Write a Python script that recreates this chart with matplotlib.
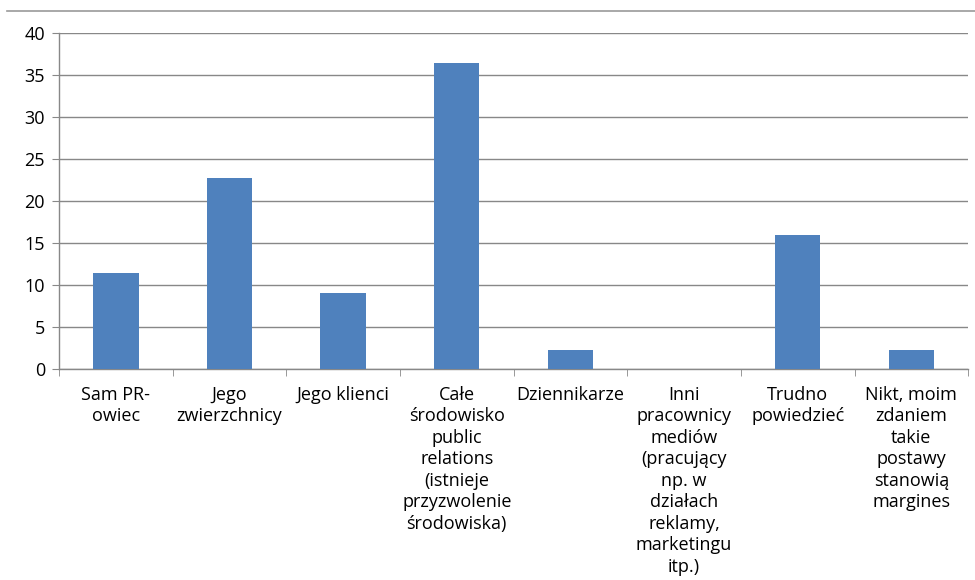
import matplotlib
matplotlib.use("Agg")
import matplotlib.pyplot as plt
from matplotlib.lines import Line2D
import numpy as np

plt.rcParams['font.family'] = ['Open Sans', 'DejaVu Sans']

categories = [
    "Sam PR-\nowiec",
    "Jego\nzwierzchnicy",
    "Jego klienci",
    "Całe\nśrodowisko\npublic\nrelations\n(istnieje\nprzyzwolenie\nśrodowiska)",
    "Dziennikarze",
    "Inni\npracownicy\nmediów\n(pracujący\nnp. w\ndziałach\nreklamy,\nmarketingu\nitp.)",
    "Trudno\npowiedzieć",
    "Nikt, moim\nzdaniem\ntakie\npostawy\nstanowią\nmargines",
]
values = [11.4, 22.7, 9.1, 36.4, 2.3, 0.0, 15.9, 2.3]
yticks = [0, 5, 10, 15, 20, 25, 30, 35, 40]

fig = plt.figure(figsize=(9.75, 5.8), dpi=100)
ax = fig.add_axes([0.0605, 0.3638, 0.9325, 0.5792])

x = np.arange(len(categories))
ax.bar(x, values, width=0.4, color='#4F81BD', zorder=3)

ax.set_xlim(-0.5, len(categories) - 0.5)
ax.set_ylim(0, 40)
ax.set_yticks(yticks)
ax.tick_params(axis='y', labelsize=13, length=5, color='#888888', pad=5)
ax.yaxis.grid(True, color='#888888', linewidth=1.0, zorder=0)

ax.set_xticks(x)
ax.set_xticklabels(categories, fontsize=13, linespacing=1.25, va='top')
ax.tick_params(axis='x', which='major', length=0, pad=12)
ax.set_xticks(np.arange(-0.5, len(categories)), minor=True)
ax.tick_params(axis='x', which='minor', length=5, color='#888888')

for s in ['top', 'right']:
    ax.spines[s].set_visible(False)
for s in ['left', 'bottom']:
    ax.spines[s].set_color('#888888')
    ax.spines[s].set_linewidth(1.0)

fig.add_artist(Line2D([7 / 975, 1.0], [1 - 11 / 580, 1 - 11 / 580],
                      transform=fig.transFigure, color='#999999', linewidth=1.2))

fig.savefig("out.png", dpi=100)
